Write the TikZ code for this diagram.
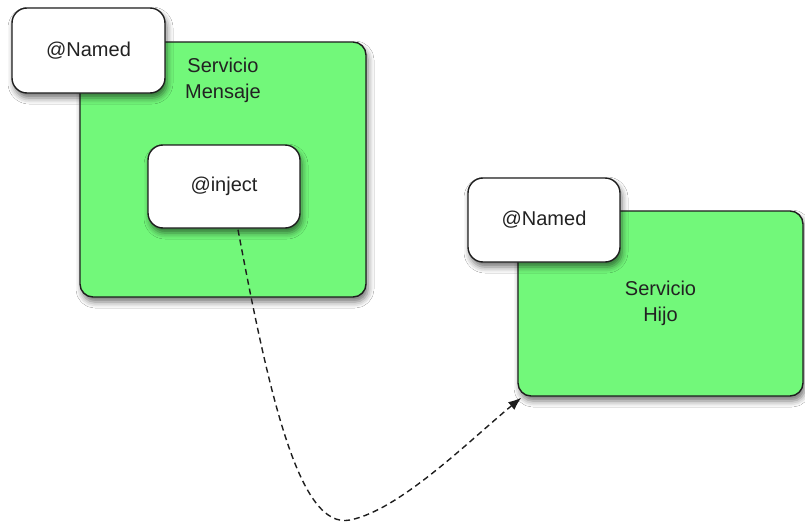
\documentclass[tikz,border=0pt]{standalone}
\usepackage{fontspec}
\setmainfont{Liberation Sans}
\usetikzlibrary{shadows.blur,calc,arrows.meta}

\definecolor{beangreen}{RGB}{114,248,122}
\definecolor{boxline}{RGB}{30,30,30}
\definecolor{labeltext}{RGB}{34,34,34}

\tikzset{
  box/.style={draw=boxline, line width=1.4pt, rounded corners=13pt,
    rectangle, inner sep=0pt, text=labeltext, align=center,
    font=\fontsize{20}{26}\selectfont,
    blur shadow={shadow xshift=2pt, shadow yshift=-5pt,
      shadow blur radius=6pt, shadow opacity=55}},
  service/.style={box, fill=beangreen},
  annot/.style={box, fill=white, rounded corners=15pt},
  title/.style={text=labeltext, align=center, inner sep=0pt,
    font=\fontsize{20}{26}\selectfont},
  inject link/.style={draw=boxline, line width=1.4pt, dash pattern=on 6pt off 4pt,
    -{Latex[length=13pt,width=10pt]}}
}

\begin{document}
\begin{tikzpicture}[x=1pt, y=-1pt]
  \useasboundingbox (0,0) rectangle (805,522);
  \fill[white] (0,0) rectangle (805,522);

  % service with the injection point
  \node[service, minimum width=286pt, minimum height=255pt] (mensaje) at (223,169.5) {};
  \node[title] (mensajeTitle) at (223,80) {Servicio\\Mensaje};
  \node[annot, minimum width=153pt, minimum height=85pt] (namedMensaje) at (88.5,50.5) {@Named};
  \node[annot, minimum width=152pt, minimum height=83pt] (inject) at (224,186.5) {@inject};

  % injected child service
  \node[service, minimum width=285pt, minimum height=185pt] (hijo) at (660.5,303.5) {Servicio\\Hijo};
  \node[annot, minimum width=152pt, minimum height=84pt] (namedHijo) at (544,220) {@Named};

  % dependency link
  \draw[inject link] ($(inject.south)+(14,1)$)
    .. controls (270,400) and (300,530) .. (350,520)
    .. controls (400,510) and (470,440) .. ($(hijo.south west)+(4,1)$);
\end{tikzpicture}
\end{document}
